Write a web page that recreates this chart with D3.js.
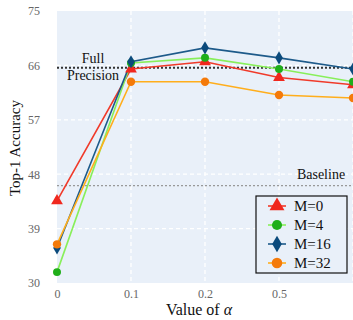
<!DOCTYPE html>
<html>
<head>
<meta charset="utf-8">
<script src="https://d3js.org/d3.v7.min.js"></script>
<style>
  body { margin:0; background:#fff; }
  svg, svg text { font-family:"Liberation Serif", "Times New Roman", "DejaVu Serif", serif; }
  svg { display:block; }
  .tick text { fill:#666; font-size:12px; }
  .grid line { stroke:#fff; stroke-dasharray:4 3; stroke-width:1.3; }
</style>
</head>
<body>
<script>
var alphas = ["0", "0.1", "0.2", "0.5", "1.0"];
var yTicks = [30, 39, 48, 57, 66, 75];
var seriesNames = ["M=0", "M=4", "M=16", "M=32"];
var m0 = [43.6, 65.4, 66.6, 64.0, 62.8];
var m4 = [31.8, 66.4, 67.25, 65.4, 63.3];
var m16 = [35.8, 66.6, 68.9, 67.25, 65.4];
var m32 = [36.4, 63.3, 63.3, 61.1, 60.6];
var fullPrecision = 65.6;
var baseline = 46.1;

var series = [
  {name: seriesNames[0], values: m0, line: "#f03a2a", fill: "#f0281e", shape: d3.symbolTriangle, size: 60},
  {name: seriesNames[1], values: m4, line: "#88ef5a", fill: "#1fae1a", shape: d3.symbolCircle, size: 50},
  {name: seriesNames[2], values: m16, line: "#1d5a8a", fill: "#0b4a7c", shape: d3.symbolDiamond, size: 50},
  {name: seriesNames[3], values: m32, line: "#ffae1c", fill: "#f47a0a", shape: d3.symbolCircle, size: 55}
];

var width = 353, height = 320;
var margin = {top: 11, left: 57, bottom: 37};
var step = 74;
var svg = d3.select("body").append("svg").attr("width", width).attr("height", height);

var x = d3.scalePoint().domain(alphas).range([margin.left, margin.left + step * (alphas.length - 1)]);
var y = d3.scaleLinear().domain([30, 75]).range([height - margin.bottom, margin.top]);

// background
svg.append("rect")
  .attr("x", margin.left).attr("y", margin.top)
  .attr("width", width).attr("height", y(30) - margin.top)
  .attr("fill", "#e9f0f9");

// grid
var grid = svg.append("g").attr("class", "grid");
grid.selectAll(".gy").data(yTicks.slice(1, -1)).enter().append("line")
  .attr("x1", margin.left).attr("x2", width)
  .attr("y1", d => y(d)).attr("y2", d => y(d));
grid.selectAll(".gx").data(alphas.slice(1)).enter().append("line")
  .attr("x1", d => x(d)).attr("x2", d => x(d))
  .attr("y1", margin.top).attr("y2", y(30));

// axes (last alpha label sits past the window edge, as in the original crop)
var yAxis = d3.axisLeft(y).tickValues(yTicks).tickSize(0).tickPadding(17);
svg.append("g").attr("transform", "translate(" + margin.left + ",0)").call(yAxis)
  .attr("font-family", null)
  .call(g => g.select(".domain").remove());
var xAxis = d3.axisBottom(x).tickValues(alphas.slice(0, 4)).tickSize(0).tickPadding(6);
svg.append("g").attr("transform", "translate(0," + y(30) + ")").call(xAxis)
  .attr("font-family", null)
  .call(g => g.select(".domain").remove());

svg.append("text")
  .attr("transform", "translate(20," + 148 + ") rotate(-90)")
  .attr("text-anchor", "middle").attr("font-size", 15).attr("fill", "#111")
  .text("Top-1 Accuracy");
var xt = svg.append("text")
  .attr("x", 199).attr("y", 315)
  .attr("text-anchor", "middle").attr("font-size", 16).attr("fill", "#111");
xt.append("tspan").text("Value of ");
xt.append("tspan").attr("font-style", "italic").text("α");

// reference lines
svg.append("line")
  .attr("x1", margin.left).attr("x2", width)
  .attr("y1", y(fullPrecision)).attr("y2", y(fullPrecision))
  .attr("stroke", "#333").attr("stroke-width", 2).attr("stroke-dasharray", "2 2");
svg.append("text").attr("x", 93).attr("y", y(fullPrecision) - 5)
  .attr("text-anchor", "middle").attr("font-size", 14).attr("fill", "#111").text("Full");
svg.append("text").attr("x", 93).attr("y", y(fullPrecision) + 12)
  .attr("text-anchor", "middle").attr("font-size", 14).attr("fill", "#111").text("Precision");
svg.append("line")
  .attr("x1", margin.left).attr("x2", width)
  .attr("y1", y(baseline)).attr("y2", y(baseline))
  .attr("stroke", "#999").attr("stroke-width", 1.2).attr("stroke-dasharray", "2 2");
svg.append("text").attr("x", 321).attr("y", y(baseline) - 7)
  .attr("text-anchor", "middle").attr("font-size", 14).attr("fill", "#111").text("Baseline");

// lines and markers
var line = d3.line().x((d, i) => x(alphas[i])).y(d => y(d));
series.forEach(function(s) {
  svg.append("path").attr("d", line(s.values))
    .attr("fill", "none").attr("stroke", s.line).attr("stroke-width", 1.6);
});
series.forEach(function(s) {
  svg.selectAll(null).data(s.values).enter().append("path")
    .attr("transform", (d, i) => "translate(" + x(alphas[i]) + "," + y(d) + ")")
    .attr("d", d3.symbol().type(s.shape).size(s.size))
    .attr("fill", s.fill);
});

// legend
var lg = svg.append("g").attr("transform", "translate(256,196)");
lg.append("rect").attr("width", 91).attr("height", 77)
  .attr("fill", "#e9f0f9").attr("stroke", "#111").attr("stroke-width", 1.2);
series.forEach(function(s, i) {
  var ry = 10 + i * 19;
  lg.append("line").attr("x1", 12).attr("x2", 30).attr("y1", ry).attr("y2", ry)
    .attr("stroke", s.line).attr("stroke-width", 1.6);
  lg.append("path").attr("transform", "translate(21," + ry + ")")
    .attr("d", d3.symbol().type(s.shape).size(s.size * 1.6)).attr("fill", s.fill);
  lg.append("text").attr("x", 38).attr("y", ry + 5).attr("font-size", 15).attr("fill", "#111").text(s.name);
});
</script>
</body>
</html>
